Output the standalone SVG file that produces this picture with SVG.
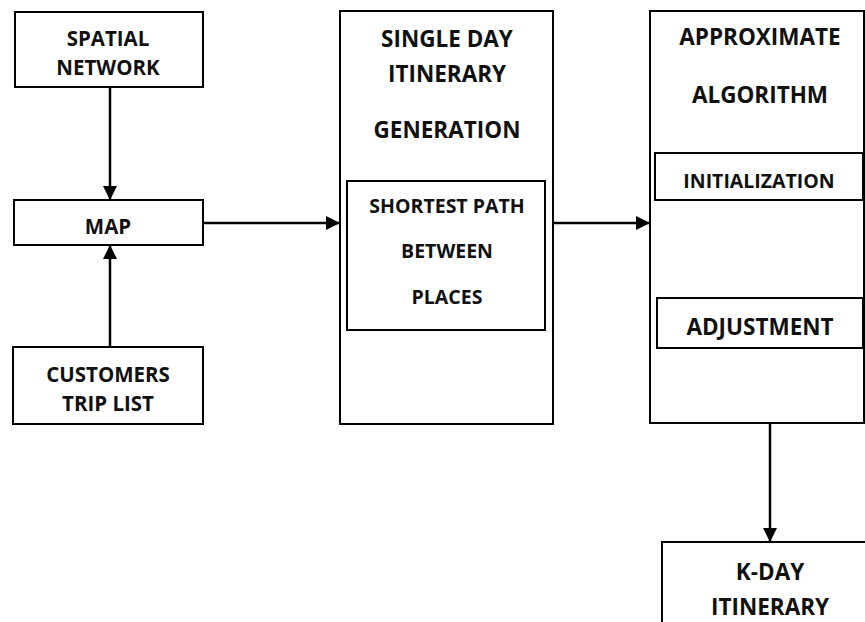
<svg xmlns="http://www.w3.org/2000/svg" width="865" height="622" viewBox="0 0 865 622">
<style>
.box{fill:#fff;stroke:#000;stroke-width:2}
.t{font-family:"Open Sans","Liberation Sans",sans-serif;font-weight:700;fill:#111;text-anchor:middle}
.l{font-size:20.5px}
.b{font-size:22.5px}
.s{font-size:19.5px}
.c{stroke:#000;stroke-width:2.5;fill:none}
</style>
<defs>
<marker id="ah" markerWidth="14" markerHeight="14" refX="13" refY="7" orient="auto" markerUnits="userSpaceOnUse" viewBox="0 0 14 14">
<path d="M0,0 L14,7 L0,14 z" fill="#000"/>
</marker>
</defs>
<rect width="865" height="622" fill="#fff"/>
<g id="spatial-network">
<rect class="box" x="15" y="12" width="188" height="75"/>
<text class="t l" x="108" y="46">SPATIAL</text>
<text class="t l" x="108" y="75">NETWORK</text>
</g>
<g id="map">
<rect class="box" x="14" y="200" width="189" height="45"/>
<text class="t l" x="108" y="234">MAP</text>
</g>
<g id="customers-trip-list">
<rect class="box" x="13" y="347" width="190" height="77"/>
<text class="t l" x="108" y="382">CUSTOMERS</text>
<text class="t l" x="108" y="411">TRIP LIST</text>
</g>
<g id="single-day">
<rect class="box" x="340" y="11" width="213" height="413"/>
<text class="t b" x="447" y="47">SINGLE DAY</text>
<text class="t b" x="447" y="82">ITINERARY</text>
<text class="t b" x="447" y="138">GENERATION</text>
</g>
<g id="shortest-path">
<rect class="box" x="347" y="181" width="198" height="149"/>
<text class="t s" x="447" y="213">SHORTEST PATH</text>
<text class="t s" x="447" y="258">BETWEEN</text>
<text class="t s" x="447" y="304">PLACES</text>
</g>
<g id="approximate-algorithm">
<rect class="box" x="650" y="11" width="214" height="412"/>
<text class="t b" x="760" y="45">APPROXIMATE</text>
<text class="t b" x="760" y="103">ALGORITHM</text>
</g>
<g id="initialization">
<rect class="box" x="655" y="153" width="208" height="47"/>
<text class="t s" x="759" y="188">INITIALIZATION</text>
</g>
<g id="adjustment">
<rect class="box" x="657" y="298" width="206" height="50"/>
<text class="t b" x="760" y="335">ADJUSTMENT</text>
</g>
<g id="k-day-itinerary">
<rect class="box" x="662" y="542" width="215" height="100"/>
<text class="t b" x="770" y="580">K-DAY</text>
<text class="t b" x="770" y="615">ITINERARY</text>
</g>
<g id="connectors">
<line class="c" x1="110" y1="87" x2="110" y2="199" marker-end="url(#ah)"/>
<line class="c" x1="110" y1="347" x2="110" y2="246" marker-end="url(#ah)"/>
<line class="c" x1="203" y1="223" x2="339" y2="223" marker-end="url(#ah)"/>
<line class="c" x1="553" y1="223" x2="649" y2="223" marker-end="url(#ah)"/>
<line class="c" x1="770" y1="424" x2="770" y2="541" marker-end="url(#ah)"/>
</g>
</svg>
